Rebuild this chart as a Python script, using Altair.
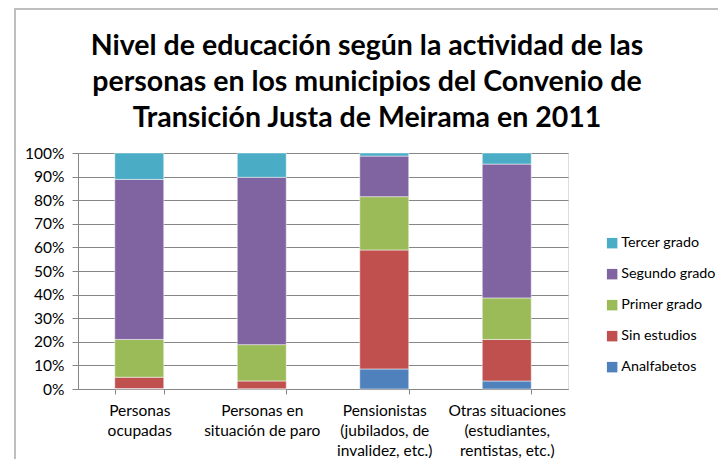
import altair as alt
import pandas as pd

categories = [
    "Personas ocupadas",
    "Personas en situación de paro",
    "Pensionistas (jubilados, de invalidez, etc.)",
    "Otras situaciones (estudiantes, rentistas, etc.)",
]
cat_labels = [
    ["Personas", "ocupadas"],
    ["Personas en", "situación de paro"],
    ["Pensionistas", "(jubilados, de", "invalidez, etc.)"],
    ["Otras situaciones", "(estudiantes,", "rentistas, etc.)"],
]
title_lines = [
    "Nivel de educación según la actividad de las",
    "personas en los municipios del Convenio de",
    "Transición Justa de Meirama en 2011",
]
levels = ["Analfabetos", "Sin estudios", "Primer grado", "Segundo grado", "Tercer grado"]
colors = ["#4F81BD", "#C0504D", "#9BBB59", "#8064A2", "#4BACC6"]

analfabetos = [0.2, 0.1, 8.5, 3.4]
sin_estudios = [4.8, 3.3, 50.4, 17.6]
primer_grado = [16.0, 15.4, 22.6, 17.6]
segundo_grado = [67.8, 70.9, 17.2, 56.7]
tercer_grado = [11.2, 10.3, 1.3, 4.7]

series = [analfabetos, sin_estudios, primer_grado, segundo_grado, tercer_grado]
rows = []
for li, (lvl, vals) in enumerate(zip(levels, series)):
    for ci, cat in enumerate(categories):
        rows.append({"cat": cat, "nivel": lvl, "orden": li, "valor": vals[ci]})
df = pd.DataFrame(rows)
one = pd.DataFrame({"k": [0]})

label_expr = "{" + ", ".join(
    f"'{c}': {cl!r}".replace('"', "'") for c, cl in zip(categories, cat_labels)
) + "}[datum.value]"

FONT = "Lato"
GRID = "#868686"
W, H = 490, 236

bars = alt.Chart(df).mark_bar(stroke="white", strokeWidth=0.5).encode(
    x=alt.X(
        "cat:N",
        sort=categories,
        title=None,
        scale=alt.Scale(paddingInner=0.6, paddingOuter=0.3),
        axis=alt.Axis(
            labelAngle=0,
            labelExpr=label_expr,
            tickBand="extent",
            labelFont=FONT,
            labelFontSize=15.5,
            labelColor="#000000",
            labelPadding=9,
            tickColor=GRID,
            tickSize=5,
            domainColor=GRID,
            labelLineHeight=20,
        ),
    ),
    y=alt.Y(
        "valor:Q",
        stack="normalize",
        title=None,
        axis=alt.Axis(
            format=".0%",
            values=[i / 10 for i in range(11)],
            labelFont=FONT,
            labelFontSize=15.5,
            labelColor="#000000",
            gridColor=GRID,
            gridWidth=1,
            tickColor=GRID,
            tickSize=6,
            domainColor=GRID,
            labelPadding=8,
        ),
    ),
    color=alt.Color(
        "nivel:N",
        scale=alt.Scale(domain=levels[::-1], range=colors[::-1]),
        legend=alt.Legend(
            title=None,
            orient="none",
            legendX=527,
            legendY=83,
            symbolType="square",
            symbolSize=110,
            symbolStrokeWidth=0,
            labelFont=FONT,
            labelFontSize=14.3,
            labelColor="#000000",
            rowPadding=16,
            labelOffset=2,
        ),
    ),
    order=alt.Order("orden:Q", sort="ascending"),
)

title = alt.Chart(one).mark_text(
    font=FONT,
    fontSize=28.5,
    fontWeight="bold",
    lineHeight=36,
    align="center",
    baseline="alphabetic",
    color="#000000",
).encode(
    x=alt.value(289),
    y=alt.value(-98),
    text=alt.value(title_lines),
)

border_top = alt.Chart(one).mark_rule(color="#BFBFBF", strokeWidth=2).encode(
    x=alt.value(-64), x2=alt.value(W + 150), y=alt.value(-144)
)
border_left = alt.Chart(one).mark_rule(color="#BFBFBF", strokeWidth=2).encode(
    x=alt.value(-63), y=alt.value(-145), y2=alt.value(H + 80)
)

chart = alt.layer(border_top, border_left, bars, title).properties(
    width=W,
    height=H,
    autosize=alt.AutoSizeParams(type="none"),
    padding={"left": 70, "top": 145, "right": 150, "bottom": 70},
).configure_view(stroke=None).configure(background="white")

chart.save("out.html", embed_options={"renderer": "svg", "actions": False})
